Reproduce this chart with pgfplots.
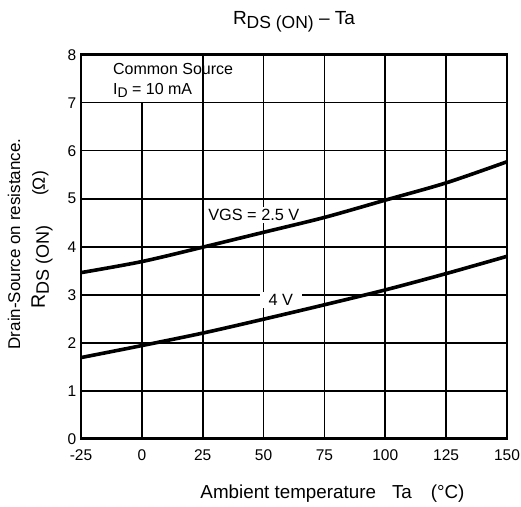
\documentclass[border=0pt]{standalone}
\usepackage{pgfplots}
\pgfplotsset{compat=1.18}
\usepackage{fontspec}
\setmainfont{Liberation Sans}

% lowered, slightly smaller subscript letters as used in the device notation
\newcommand\lsub[3]{\raisebox{-#2}{\fontsize{#1}{#1}\selectfont #3}}

\begin{document}
\begin{tikzpicture}
\path[use as bounding box] (-81pt,-67.3pt) rectangle (440pt,438.7pt);
\begin{axis}[
  at={(0pt,0pt)}, anchor=south west,
  scale only axis, width=426pt, height=384pt,
  xmin=-25, xmax=150, ymin=0, ymax=8,
  xtick={-25,0,25,50,75,100,125,150},
  xticklabels={-25,0,25,50,75,100,125,150},
  ytick={0,1,2,3,4,5,6,7,8},
  yticklabels={0,1,2,3,4,5,6,7,8},
  major tick length=0pt,
  grid=major,
  grid style={black, line width=1.6pt},
  axis line style={black, line width=2.7pt},
  ticklabel style={font=\fontsize{15.5}{15.5}\selectfont},
  xticklabel style={anchor=base, inner sep=0pt, yshift=-22pt},
  yticklabel style={anchor=east, inner sep=0pt, xshift=-4.5pt},
  clip=false,
]
% condition box in the upper left corner
\fill[white] ([xshift=1.35pt]axis cs:-25,7) rectangle ([yshift=-1.35pt]axis cs:25,8);
\draw[black, line width=1.6pt] (axis cs:-25,7) -- (axis cs:25,7) -- (axis cs:25,8);
\node[anchor=west, inner sep=0pt, font=\fontsize{16}{16}\selectfont] at (axis cs:-11.9,7.70) {Common Source};
\node[anchor=west, inner sep=0pt, font=\fontsize{16}{16}\selectfont] at (axis cs:-11.9,7.26) {I\lsub{14pt}{3pt}{D} = 10 mA};

% curve labels
\node[fill=white, inner xsep=1pt, inner ysep=2pt, font=\fontsize{16.3}{16.3}\selectfont] at (axis cs:46.0,4.66) {VGS = 2.5 V};
\node[fill=white, inner xsep=9pt, inner ysep=2pt, font=\fontsize{16.3}{16.3}\selectfont] at (axis cs:57.1,2.89) {4 V};

% VGS = 2.5 V
\addplot[black, line width=3.6pt, smooth] coordinates {
  (-25,3.46) (0,3.69) (25,3.99) (50,4.30) (75,4.61) (100,4.97) (125,5.33) (150,5.77)
};
% VGS = 4 V
\addplot[black, line width=3.6pt, smooth] coordinates {
  (-25,1.69) (0,1.94) (25,2.20) (50,2.49) (75,2.79) (100,3.10) (125,3.44) (150,3.80)
};
\end{axis}

% title and axis titles
\node[font=\fontsize{19}{19}\selectfont] at (213pt,417pt)
  {R\lsub{17.5pt}{4pt}{DS (ON)} -- Ta};
\node[font=\fontsize{18.8}{18.8}\selectfont] at (251.5pt,-55.3pt)
  {Ambient temperature\hspace{16pt}Ta\hspace{19pt}(°C)};
\node[rotate=90, font=\fontsize{17}{17}\selectfont] at (-67pt,194.7pt)
  {Drain-Source on resistance.};
\node[rotate=90, font=\fontsize{19.5}{19.5}\selectfont] at (-39pt,198.7pt)
  {R\lsub{18pt}{4pt}{DS (ON)}\hspace{30pt}{\fontsize{17.5}{17.5}\selectfont(Ω)}};
\end{tikzpicture}
\end{document}
